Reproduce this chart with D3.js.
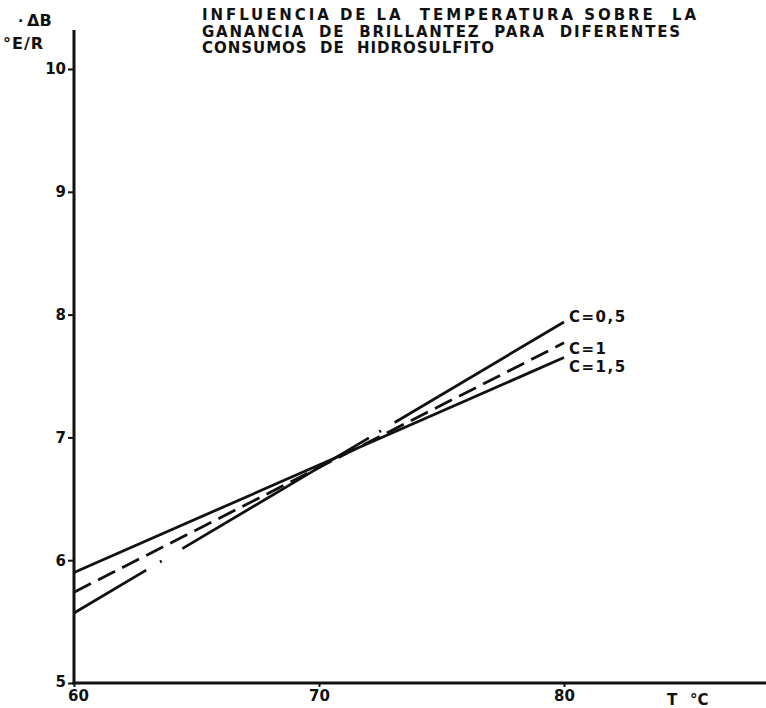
<!DOCTYPE html>
<html>
<head>
<meta charset="utf-8">
<script src="https://cdn.jsdelivr.net/npm/d3@7/dist/d3.min.js"></script>
<style>
  html, body { margin: 0; padding: 0; background: #fff; }
  svg { display: block; }
  text { font-family: "DejaVu Sans", "Liberation Sans", sans-serif; font-weight: bold; fill: #111; }
</style>
</head>
<body>
<svg id="chart" width="766" height="708"></svg>
<script>
// Temperature (°C) at the two ends of each fitted line
const temps = [60, 80];
// Brightness gain ΔB (°E/R) for each hydrosulfite consumption
const gainC05 = [5.57, 7.94];
const gainC1 = [5.74, 7.77];
const gainC15 = [5.90, 7.65];
const seriesLabels = ["C=0,5", "C=1", "C=1,5"];
const xTicks = [60, 70, 80];
const yTicks = [5, 6, 7, 8, 9, 10];
const titleLines = [
  "INFLUENCIA DE LA  TEMPERATURA SOBRE  LA",
  "GANANCIA  DE  BRILLANTEZ  PARA  DIFERENTES",
  "CONSUMOS  DE  HIDROSULFITO"
];

const svg = d3.select("#chart");
const ink = "#111";

const x = d3.scaleLinear().domain([60, 80]).range([74, 564]);
const y = d3.scaleLinear().domain([5, 10]).range([683, 69]);

// Title block, three lettered lines
const titleWidths = [494, 478, 292];
titleLines.forEach((t, i) => {
  svg.append("text")
    .attr("x", 202).attr("y", 20 + i * 16.5)
    .attr("font-size", 15)
    .attr("textLength", titleWidths[i])
    .attr("lengthAdjust", "spacing")
    .attr("xml:space", "preserve")
    .style("white-space", "pre")
    .text(t);
});

// Axis lines
svg.append("line")
  .attr("x1", x(60)).attr("x2", x(60))
  .attr("y1", 30).attr("y2", y(5) + 1.5)
  .attr("stroke", ink).attr("stroke-width", 3);
svg.append("line")
  .attr("x1", x(60) - 1.5).attr("x2", 766)
  .attr("y1", y(5)).attr("y2", y(5))
  .attr("stroke", ink).attr("stroke-width", 3);

// Y axis ticks and labels
const yAxis = d3.axisLeft(y).tickValues(yTicks).tickSize(6).tickPadding(2)
  .tickFormat(d3.format("d"));
const gy = svg.append("g").attr("transform", `translate(${x(60)},0)`).call(yAxis);
gy.select(".domain").remove();
gy.selectAll(".tick line").attr("stroke", ink).attr("stroke-width", 2);
gy.selectAll(".tick text").attr("font-size", 15).attr("font-family", null).attr("fill", ink);
gy.selectAll(".tick text").filter(d => d === 5).attr("dy", "0.25em");

// X axis ticks and labels
const xAxis = d3.axisBottom(x).tickValues(xTicks).tickSize(4).tickPadding(3)
  .tickFormat(d3.format("d"));
const gx = svg.append("g").attr("transform", `translate(0,${y(5)})`).call(xAxis);
gx.select(".domain").remove();
gx.selectAll(".tick line").attr("stroke", ink).attr("stroke-width", 2);
gx.selectAll(".tick text").attr("font-size", 15).attr("font-family", null).attr("fill", ink);
gx.selectAll(".tick text").filter(d => d === 60).attr("dx", 4);

// Axis titles
svg.append("text").attr("x", 18).attr("y", 22).attr("font-size", 14).text(".");
svg.append("text").attr("x", 27).attr("y", 26).attr("font-size", 16).text("ΔB");
svg.append("text").attr("x", 3).attr("y", 49).attr("font-size", 16)
  .attr("letter-spacing", 1).text("°E/R");
svg.append("text").attr("x", 667).attr("y", 705).attr("font-size", 15).text("T");
svg.append("text").attr("x", 690).attr("y", 705).attr("font-size", 15).text("°C");

// Series lines
const series = [
  { vals: gainC05, dash: "84,16,2,24,217,12,2,16,400" },
  { vals: gainC1, dash: "19,8" },
  { vals: gainC15, dash: null }
];
const line = d3.line().x(d => x(d[0])).y(d => y(d[1]));
series.forEach(s => {
  const pts = temps.map((t, i) => [t, s.vals[i]]);
  const p = svg.append("path")
    .attr("d", line(pts))
    .attr("fill", "none")
    .attr("stroke", ink)
    .attr("stroke-width", 2.8);
  if (s.dash) p.attr("stroke-dasharray", s.dash);
});

// Series labels at the right end of each line
const labelY = [gainC05[1] + 0.04, gainC1[1] - 0.05, gainC15[1] - 0.07];
seriesLabels.forEach((lab, i) => {
  svg.append("text")
    .attr("x", x(80) + 5)
    .attr("y", y(labelY[i]))
    .attr("dy", "0.36em")
    .attr("font-size", 15)
    .attr("letter-spacing", 1.5)
    .text(lab);
});
</script>
</body>
</html>
